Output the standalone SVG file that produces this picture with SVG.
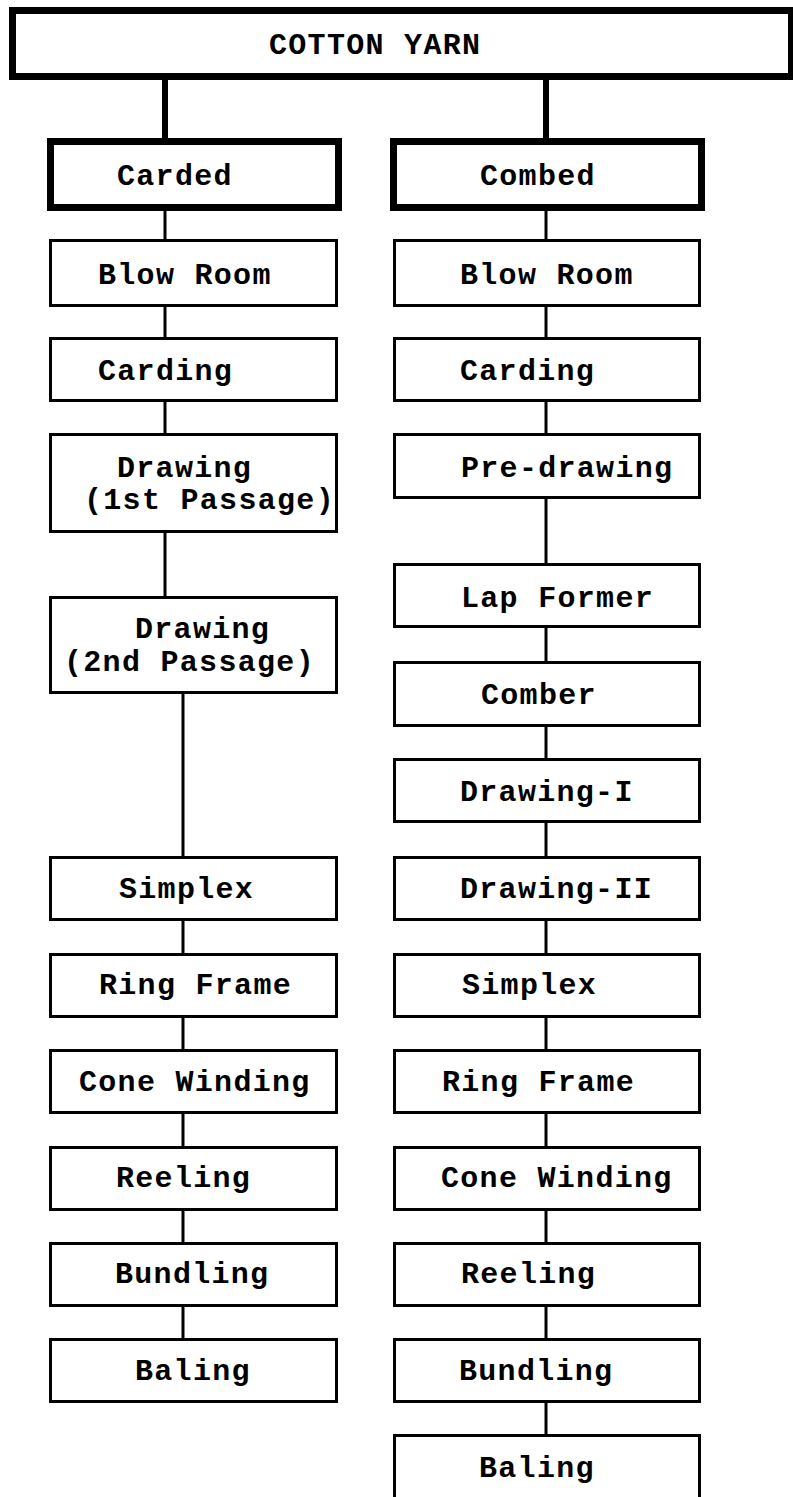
<svg xmlns="http://www.w3.org/2000/svg" width="793" height="1497" viewBox="0 0 793 1497">
<style>
.bg{fill:#fff}
.box{fill:#fff;stroke:#000;stroke-width:3}
.thick{fill:#fff;stroke:#000;stroke-width:7}
.t{font-family:"Liberation Mono","DejaVu Sans Mono",monospace;font-size:30px;font-weight:bold;letter-spacing:1.3px;fill:#000}
.c{stroke:#000;stroke-width:3;fill:none}
.ct{stroke:#000;stroke-width:6;fill:none}
</style>
<rect class="bg" x="0" y="0" width="793" height="1497"/>
<g id="connectors">
<line class="ct" x1="165" y1="78" x2="165" y2="140"/>
<line class="ct" x1="546" y1="78" x2="546" y2="140"/>
<line class="c" x1="165" y1="209" x2="165" y2="240"/>
<line class="c" x1="165" y1="306" x2="165" y2="338"/>
<line class="c" x1="165" y1="401" x2="165" y2="434"/>
<line class="c" x1="165" y1="532" x2="165" y2="597"/>
<line class="c" x1="183" y1="693" x2="183" y2="857"/>
<line class="c" x1="183" y1="920" x2="183" y2="954"/>
<line class="c" x1="183" y1="1017" x2="183" y2="1050"/>
<line class="c" x1="183" y1="1113" x2="183" y2="1147"/>
<line class="c" x1="183" y1="1210" x2="183" y2="1243"/>
<line class="c" x1="183" y1="1306" x2="183" y2="1339"/>
<line class="c" x1="546" y1="209" x2="546" y2="240"/>
<line class="c" x1="546" y1="306" x2="546" y2="338"/>
<line class="c" x1="546" y1="401" x2="546" y2="434"/>
<line class="c" x1="546" y1="498" x2="546" y2="564"/>
<line class="c" x1="546" y1="627" x2="546" y2="662"/>
<line class="c" x1="546" y1="726" x2="546" y2="759"/>
<line class="c" x1="546" y1="822" x2="546" y2="857"/>
<line class="c" x1="546" y1="920" x2="546" y2="954"/>
<line class="c" x1="546" y1="1017" x2="546" y2="1050"/>
<line class="c" x1="546" y1="1113" x2="546" y2="1147"/>
<line class="c" x1="546" y1="1210" x2="546" y2="1243"/>
<line class="c" x1="546" y1="1306" x2="546" y2="1339"/>
<line class="c" x1="546" y1="1402" x2="546" y2="1435"/>
</g>
<g id="cotton-yarn"><rect class="thick" x="12.5" y="10.5" width="779" height="66"/><text class="t" x="269" y="54">COTTON YARN</text></g>
<g id="carded"><rect class="thick" x="50.5" y="141.5" width="288" height="66"/><text class="t" x="117" y="185">Carded</text></g>
<g id="combed"><rect class="thick" x="393.5" y="141.5" width="308" height="66"/><text class="t" x="480" y="185">Combed</text></g>

<g id="l-blowroom"><rect class="box" x="50.5" y="240.5" width="286" height="65"/><text class="t" x="98" y="284">Blow Room</text></g>
<g id="l-carding"><rect class="box" x="50.5" y="338.5" width="286" height="62"/><text class="t" x="98" y="380">Carding</text></g>
<g id="l-drawing1"><rect class="box" x="50.5" y="434.5" width="286" height="97"/><text class="t" x="117" y="477">Drawing</text><text class="t" x="84" y="509">(1st Passage)</text></g>
<g id="l-drawing2"><rect class="box" x="50.5" y="597.5" width="286" height="95"/><text class="t" x="135" y="638">Drawing</text><text class="t" x="64" y="671">(2nd Passage)</text></g>
<g id="l-simplex"><rect class="box" x="50.5" y="857.5" width="286" height="62"/><text class="t" x="119" y="898">Simplex</text></g>
<g id="l-ringframe"><rect class="box" x="50.5" y="954.5" width="286" height="62"/><text class="t" x="99" y="994">Ring Frame</text></g>
<g id="l-conewinding"><rect class="box" x="50.5" y="1050.5" width="286" height="62"/><text class="t" x="79" y="1091">Cone Winding</text></g>
<g id="l-reeling"><rect class="box" x="50.5" y="1147.5" width="286" height="62"/><text class="t" x="116" y="1187">Reeling</text></g>
<g id="l-bundling"><rect class="box" x="50.5" y="1243.5" width="286" height="62"/><text class="t" x="115" y="1283">Bundling</text></g>
<g id="l-baling"><rect class="box" x="50.5" y="1339.5" width="286" height="62"/><text class="t" x="135" y="1380">Baling</text></g>

<g id="r-blowroom"><rect class="box" x="394.5" y="240.5" width="305" height="65"/><text class="t" x="460" y="284">Blow Room</text></g>
<g id="r-carding"><rect class="box" x="394.5" y="338.5" width="305" height="62"/><text class="t" x="460" y="380">Carding</text></g>
<g id="r-predrawing"><rect class="box" x="394.5" y="434.5" width="305" height="63"/><text class="t" x="461" y="477">Pre-drawing</text></g>
<g id="r-lapformer"><rect class="box" x="394.5" y="564.5" width="305" height="62"/><text class="t" x="461" y="607">Lap Former</text></g>
<g id="r-comber"><rect class="box" x="394.5" y="662.5" width="305" height="63"/><text class="t" x="481" y="704">Comber</text></g>
<g id="r-drawing1"><rect class="box" x="394.5" y="759.5" width="305" height="62"/><text class="t" x="460" y="801">Drawing-I</text></g>
<g id="r-drawing2"><rect class="box" x="394.5" y="857.5" width="305" height="62"/><text class="t" x="460" y="898">Drawing-II</text></g>
<g id="r-simplex"><rect class="box" x="394.5" y="954.5" width="305" height="62"/><text class="t" x="462" y="994">Simplex</text></g>
<g id="r-ringframe"><rect class="box" x="394.5" y="1050.5" width="305" height="62"/><text class="t" x="442" y="1091">Ring Frame</text></g>
<g id="r-conewinding"><rect class="box" x="394.5" y="1147.5" width="305" height="62"/><text class="t" x="441" y="1187">Cone Winding</text></g>
<g id="r-reeling"><rect class="box" x="394.5" y="1243.5" width="305" height="62"/><text class="t" x="461" y="1283">Reeling</text></g>
<g id="r-bundling"><rect class="box" x="394.5" y="1339.5" width="305" height="62"/><text class="t" x="459" y="1380">Bundling</text></g>
<g id="r-baling"><rect class="box" x="394.5" y="1435.5" width="305" height="70"/><text class="t" x="479" y="1477">Baling</text></g>
</svg>
